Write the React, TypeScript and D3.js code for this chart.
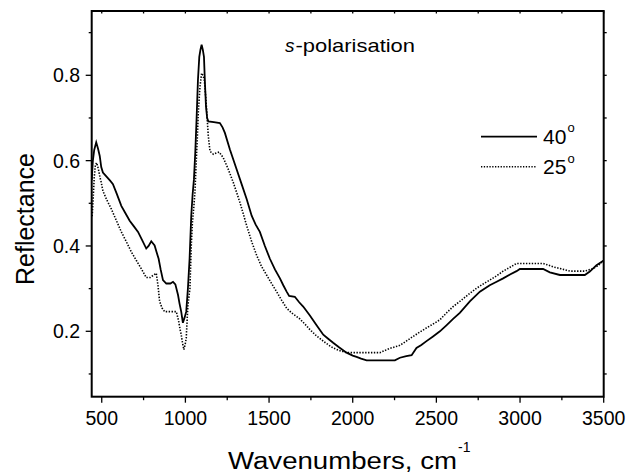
import React from "react";
import * as d3 from "d3";

const wn40 = [440,447,455,467,478,488,497,507,530,550,567,590,617,640,667,690,717,740,766,780,796,816,828,840,852,866,886,910,926,940,956,965,975,985,995,1005,1015,1025,1035,1043,1051,1059,1067,1075,1083,1090,1097,1104,1111,1117,1123,1130,1137,1170,1206,1222,1236,1266,1306,1336,1366,1396,1420,1445,1475,1505,1535,1565,1585,1605,1620,1654,1680,1704,1744,1784,1824,1855,1883,1920,1963,2000,2023,2050,2083,2150,2252,2282,2320,2352,2381,2410,2441,2480,2521,2560,2600,2640,2700,2760,2819,2860,2899,2940,2979,2999,3138,3178,3238,3387,3417,3457,3500];
const r40 = [0.555,0.600,0.625,0.643,0.628,0.611,0.585,0.572,0.562,0.553,0.545,0.522,0.494,0.478,0.459,0.447,0.433,0.415,0.394,0.400,0.411,0.401,0.385,0.370,0.345,0.320,0.312,0.312,0.316,0.310,0.285,0.265,0.246,0.220,0.232,0.246,0.300,0.370,0.471,0.520,0.556,0.619,0.700,0.789,0.843,0.860,0.872,0.860,0.843,0.780,0.727,0.700,0.692,0.690,0.688,0.678,0.665,0.626,0.580,0.545,0.510,0.471,0.450,0.433,0.400,0.370,0.345,0.324,0.308,0.293,0.283,0.281,0.268,0.258,0.237,0.214,0.192,0.182,0.173,0.162,0.150,0.143,0.140,0.136,0.132,0.132,0.132,0.138,0.142,0.144,0.161,0.168,0.177,0.188,0.200,0.214,0.229,0.243,0.270,0.293,0.308,0.316,0.324,0.333,0.341,0.346,0.346,0.338,0.332,0.332,0.340,0.355,0.366];

const wn25 = [443,450,455,462,470,480,490,497,507,530,557,587,617,647,677,707,736,766,790,810,826,836,846,860,876,946,960,968,975,983,991,998,1005,1011,1015,1027,1035,1042,1050,1057,1065,1072,1077,1087,1097,1105,1113,1123,1130,1137,1147,1167,1185,1202,1226,1256,1286,1326,1366,1396,1426,1455,1485,1515,1545,1575,1605,1635,1660,1684,1714,1744,1784,1824,1855,1883,1920,1963,2060,2162,2222,2282,2320,2361,2400,2441,2480,2521,2560,2600,2640,2700,2740,2780,2819,2860,2899,2940,2979,3138,3170,3198,3240,3278,3300,3387,3437,3470,3500];
const r25 = [0.470,0.520,0.560,0.590,0.595,0.580,0.560,0.549,0.529,0.508,0.487,0.460,0.433,0.410,0.386,0.366,0.347,0.326,0.326,0.332,0.336,0.308,0.270,0.255,0.246,0.246,0.223,0.205,0.192,0.172,0.157,0.168,0.184,0.231,0.260,0.300,0.400,0.455,0.490,0.526,0.600,0.660,0.712,0.773,0.805,0.800,0.789,0.743,0.700,0.657,0.622,0.615,0.618,0.620,0.607,0.580,0.549,0.502,0.448,0.410,0.378,0.352,0.332,0.312,0.293,0.273,0.254,0.243,0.236,0.229,0.217,0.204,0.189,0.177,0.168,0.161,0.155,0.150,0.150,0.150,0.160,0.167,0.177,0.188,0.198,0.208,0.217,0.227,0.243,0.258,0.270,0.289,0.301,0.311,0.320,0.330,0.341,0.350,0.359,0.359,0.355,0.351,0.347,0.343,0.341,0.341,0.347,0.355,0.366];

const xMajor = [500, 1000, 1500, 2000, 2500, 3000, 3500];
const xMinor = [750, 1250, 1750, 2250, 2750, 3250];
const yMajor = [0.2, 0.4, 0.6, 0.8];
const yMinor = [0.1, 0.3, 0.5, 0.7, 0.9];
const seriesNames = ["40", "25"];

const W = 630, H = 473;
const L = 91.7, R = 603.7, T = 11, B = 396.7;
const FONT = "'Liberation Sans', Arial, Helvetica, sans-serif";

export default function App() {
  const x = d3.scaleLinear().domain([440, 3500]).range([L, R]);
  const y = d3.scaleLinear().domain([0.8, 0.2]).range([75.3, 331.3]);
  const line = d3.line<[number, number]>().x(d => x(d[0])).y(d => y(d[1]));
  const d40 = line(wn40.map((v, i) => [v, r40[i]] as [number, number])) || "";
  const d25 = line(wn25.map((v, i) => [v, r25[i]] as [number, number])) || "";
  const allX = [...xMajor, ...xMinor].sort((a, b) => a - b);
  const allY = [...yMajor, ...yMinor];
  return (
    <svg width={W} height={H} style={{ position: "absolute", left: 0, top: 0, background: "#fff" }} fontFamily={FONT}>
      <rect x={0} y={0} width={W} height={H} fill="#fff" />
      <defs>
        <clipPath id="plotclip"><rect x={L} y={T} width={R - L} height={B - T} /></clipPath>
      </defs>
      <g clipPath="url(#plotclip)">
        <path d={d25} fill="none" stroke="#000" strokeWidth={1.6} strokeDasharray="1.4,1.5" />
        <path d={d40} fill="none" stroke="#000" strokeWidth={1.8} />
      </g>
      {xMajor.map(v => <line key={"xb" + v} x1={x(v)} x2={x(v)} y1={B} y2={B + 6} stroke="#000" strokeWidth={1.3} />)}
      {xMinor.map(v => <line key={"xbm" + v} x1={x(v)} x2={x(v)} y1={B} y2={B + 3.5} stroke="#000" strokeWidth={1.3} />)}
      {allX.map(v => <line key={"xt" + v} x1={x(v)} x2={x(v)} y1={T} y2={T + 2.5} stroke="#000" strokeWidth={1.3} />)}
      {yMajor.map(v => <line key={"yl" + v} x1={L - 6} x2={L} y1={y(v)} y2={y(v)} stroke="#000" strokeWidth={1.3} />)}
      {yMinor.map(v => <line key={"ylm" + v} x1={L - 3} x2={L} y1={y(v)} y2={y(v)} stroke="#000" strokeWidth={1.3} />)}
      {allY.map(v => <line key={"yr" + v} x1={R} x2={R + 3} y1={y(v)} y2={y(v)} stroke="#000" strokeWidth={1.3} />)}
      <rect x={L} y={T} width={R - L} height={B - T} fill="none" stroke="#000" strokeWidth={2} />
      {xMajor.map(v => (
        <text key={"xl" + v} x={x(v)} y={425} textAnchor="middle" fontSize={19.5} fill="#000">{v}</text>
      ))}
      {yMajor.map(v => (
        <text key={"ylb" + v} x={80} y={y(v) + 7} textAnchor="end" fontSize={19.5} fill="#000">{v.toFixed(1)}</text>
      ))}
      <text transform="translate(33.5,219) rotate(-90)" textAnchor="middle" fontSize={25} fill="#000">Reflectance</text>
      <text x={228} y={468.5} fontSize={23} textLength={229} lengthAdjust="spacingAndGlyphs" fill="#000">Wavenumbers, cm</text>
      <text x={458} y={452} fontSize={14} fill="#000">-1</text>
      <text x={285} y={51.7} fontSize={19} fontStyle="italic" fill="#000">s</text>
      <text x={295.5} y={51.7} fontSize={19} textLength={119.5} lengthAdjust="spacingAndGlyphs" fill="#000">-polarisation</text>
      <line x1={481} x2={537} y1={136.7} y2={136.7} stroke="#000" strokeWidth={1.8} />
      <text x={543} y={143.5} fontSize={21} fill="#000">{seriesNames[0]}</text>
      <text x={567.5} y={132} fontSize={13} fill="#000">o</text>
      <line x1={481} x2={537} y1={166.7} y2={166.7} stroke="#000" strokeWidth={1.4} strokeDasharray="1.3,1.5" />
      <text x={543} y={174} fontSize={21} fill="#000">{seriesNames[1]}</text>
      <text x={567.5} y={162.5} fontSize={13} fill="#000">o</text>
    </svg>
  );
}
